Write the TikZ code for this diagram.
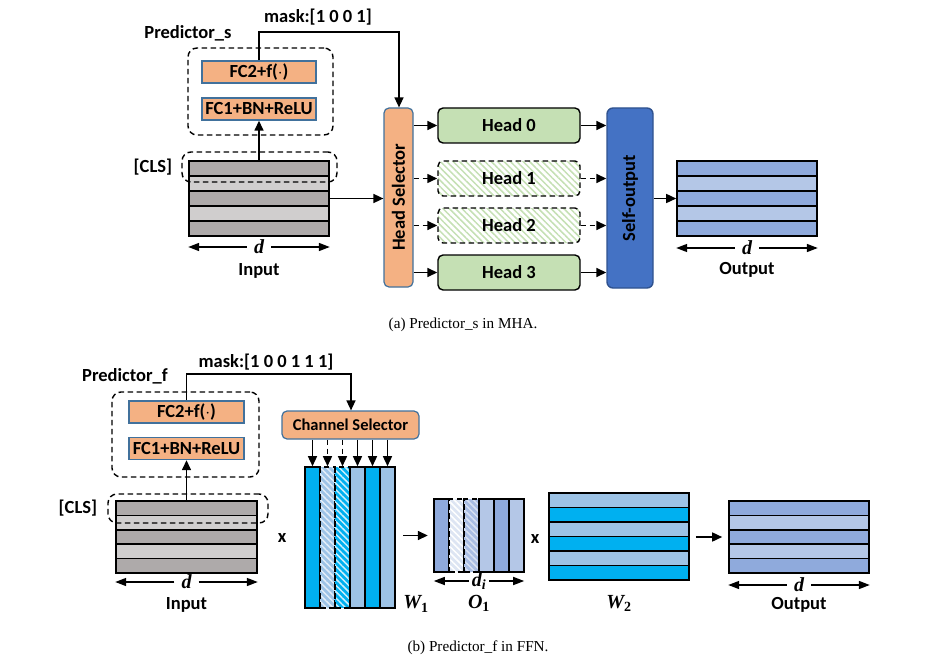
\documentclass[tikz,border=0pt]{standalone}
\usepackage{fontspec}
\usepackage{graphicx}
\setmainfont{Liberation Serif}
\newfontfamily\labfont{Carlito}
\usetikzlibrary{arrows.meta,patterns.meta,positioning}
\definecolor{orng}{HTML}{F4B183}
\definecolor{obord}{HTML}{41719C}
\definecolor{gdark}{HTML}{AEAAAA}
\definecolor{glight}{HTML}{D0CECE}
\definecolor{hgreen}{HTML}{C5E0B4}
\definecolor{hatchg}{HTML}{C5E0B4}
\definecolor{sblue}{HTML}{4472C4}
\definecolor{sbord}{HTML}{2F528F}
\definecolor{odark}{HTML}{8FAADC}
\definecolor{olight}{HTML}{B4C7E7}
\definecolor{ofadea}{HTML}{DDE5F3}
\definecolor{ofadeb}{HTML}{A9BDE3}
\definecolor{wcyan}{HTML}{00B0F0}
\definecolor{wlight}{HTML}{9DC3E6}
\begin{document}
\begin{tikzpicture}
      [
        x=1pt, y=-1pt,
        lbl/.style={font=\labfont\bfseries\fontsize{18.5}{22}\selectfont, inner sep=1pt},
        fcbox/.style={lbl, draw=obord, fill=orng, line width=1.4pt, inner sep=0pt,
          minimum width=114pt, minimum height=22pt},
        dsh/.style={dash pattern=on 5.5pt off 3.5pt},
        predbox/.style={draw, dsh, line width=1.4pt, rounded corners=9pt, inner sep=0pt},
        selbox/.style={lbl, draw=obord, fill=orng, line width=1.2pt, rounded corners=5pt, inner sep=0pt},
        head/.style={lbl, draw, line width=1.4pt, fill=hgreen, rounded corners=5pt,
          minimum width=142pt, minimum height=35pt},
        offhead/.style={lbl, draw, dsh, line width=1.4pt, rounded corners=5pt,
          minimum width=142pt, minimum height=35pt,
          pattern={Lines[angle=-45,distance=4.5pt,line width=1.5pt]}, pattern color=hatchg},
        mtx/.style={inner sep=0pt, line width=1.6pt},
        wcol/.style={draw, line width=1.6pt, inner sep=0pt, minimum width=15pt},
        hatch/.style={dsh, pattern={Lines[angle=-45,distance=4.5pt,line width=1.5pt]}},
        hatchl/.style={hatch, pattern color=white!70!wlight},
        hatchc/.style={hatch, pattern color=white!80!wcyan},
        hatcha/.style={hatch, pattern color=white},
        hatchb/.style={hatch, pattern color=white!55!ofadeb},
        arr/.style={line width=1.5pt, -{Triangle[length=10pt,width=9pt]}},
        dim/.style={line width=1.5pt, -{Triangle[length=11pt,width=8pt]}},
        mathl/.style={font=\bfseries\itshape\fontsize{20}{22}\selectfont, inner sep=1pt},
        dlbl/.style={mathl, inner xsep=7pt},
        capt/.style={font=\fontsize{15.2}{18}\selectfont}
      ]
      \useasboundingbox (0,0) rectangle (925,663);

      % (a) MHA
      \node[lbl] (masks) at (318,17) {mask:[1 0 0 1]};
      \node[lbl] (preds) at (188,33) {Predictor\_s};
      \node[predbox, minimum width=145pt, minimum height=87pt] (boxs) at (260.5,91.5) {};
      \node[fcbox] (fc2s) at (259,72) {FC2+f($\cdot$)};
      \node[fcbox] (fc1s) at (259,109) {FC1+BN+ReLU};

      \foreach \c [count=\k from 0] in {gdark,glight,gdark,glight,gdark}
        \draw[mtx, fill=\c] (189,{161+15*\k}) rectangle ++(140,15);
      \node[mtx, minimum width=140pt, minimum height=75pt] (ins) at (259,198.5) {};
      \node[predbox, minimum width=155pt, minimum height=30pt] (cls) at (259.5,167) {};
      \node[lbl, left=8pt of cls] (clsl) {[CLS]};
      \node[dlbl] (ds) at (259,247) {d};
      \node[lbl] (insl) at (259,271) {Input};

      \node[selbox, minimum width=29pt, minimum height=179pt] (hs) at (398.5,197.5)
        {\rotatebox{90}{Head Selector}};
      \foreach \i/\y/\s in {0/125.5/head,1/178.5/offhead,2/225.5/offhead,3/272.5/head}
        \node[\s] (h\i) at (509,\y) {Head \i};
      \node[lbl, draw=sbord, fill=sblue, line width=1.4pt, rounded corners=6pt, inner sep=0pt,
        minimum width=46pt, minimum height=180pt] (so) at (630,198) {\rotatebox{90}{Self-output}};

      \foreach \c [count=\k from 0] in {odark,olight,odark,olight,odark}
        \draw[mtx, fill=\c] (677,{161+15*\k}) rectangle ++(140,15);
      \node[mtx, minimum width=140pt, minimum height=75pt] (outs) at (747,198.5) {};
      \node[dlbl] (dso) at (747,248) {d};
      \node[lbl] (outsl) at (747,270) {Output};

      \coordinate (ms) at (399,32);
      \draw[arr] (fc2s.north) |- (ms) -- (ms |- hs.north);
      \draw[arr] (ins.north) -- (fc1s.south);
      \draw[arr] (ins.east) -- (hs.west |- ins.east);
      \foreach \i/\l in {0/solid,1/dsh,2/dsh,3/solid} {
        \draw[arr,\l] (hs.east |- h\i.west) -- (h\i.west);
        \draw[arr,\l] (h\i.east) -- (so.west |- h\i.east);
      }
      \draw[arr] (so.east |- outs.west) -- (outs.west);
      \draw[dim] (ds.west) -- (ds.west -| ins.west);
      \draw[dim] (ds.east) -- (ds.east -| ins.east);
      \draw[dim] (dso.west) -- (dso.west -| outs.west);
      \draw[dim] (dso.east) -- (dso.east -| outs.east);

      \node[capt] (capa) at (463,325) {(a) Predictor\_s in MHA.};

      % (b) FFN
      \node[lbl] (maskf) at (266,362) {mask:[1 0 0 1 1 1]};
      \node[lbl] (predf) at (125,376) {Predictor\_f};
      \node[predbox, minimum width=147pt, minimum height=85pt] (boxf) at (185.5,434.5) {};
      \node[fcbox, minimum width=115pt] (fc2f) at (186.5,412) {FC2+f($\cdot$)};
      \node[fcbox, minimum width=115pt] (fc1f) at (186.5,448.5) {FC1+BN+ReLU};

      \foreach \c [count=\k from 0] in {gdark,glight,gdark,glight,gdark}
        \draw[mtx, fill=\c] (116,{501+14.4*\k}) rectangle ++(141,14.4);
      \node[mtx, minimum width=141pt, minimum height=72pt] (inf) at (186.5,537) {};
      \node[predbox, minimum width=160pt, minimum height=29pt] (clsf) at (188,508.5) {};
      \node[lbl, left=9pt of clsf] (clsfl) {[CLS]};
      \node[dlbl] (df) at (186.5,582) {d};
      \node[lbl] (infl) at (186.5,605) {Input};

      \node[selbox, font=\labfont\bfseries\fontsize{16.5}{20}\selectfont,
        minimum width=137pt, minimum height=28pt] (cs) at (350.5,425) {Channel Selector};

      \node[lbl] (x1) at (282,538) {x};
      \foreach \c/\s [count=\k from 0] in {wcyan/solid,wlight/hatchl,wcyan/hatchc,
          wlight/solid,wcyan/solid,wlight/solid}
        \node[wcol, minimum height=141pt, preaction={fill=\c}, \s] (w1c\k) at ({312.5+15*\k},537.5) {};
      \node[inner sep=0pt, minimum width=90pt, minimum height=141pt] (w1) at (350,537.5) {};
      \node[mathl] (w1l) at (416,604) {W\textsubscript{\upshape 1}};

      \foreach \c/\s [count=\k from 0] in {odark/solid,ofadea/hatcha,ofadeb/hatchb,
          olight/solid,odark/solid,olight/solid}
        \node[wcol, minimum height=73pt, preaction={fill=\c}, \s] (o1c\k) at ({441.5+15*\k},535.5) {};
      \node[inner sep=0pt, minimum width=90pt, minimum height=73pt] (o1) at (479,535.5) {};
      \node[mathl, inner xsep=3pt] (dio) at (479,581) {d\textsubscript{i}};
      \node[mathl] (o1l) at (479,603) {O\textsubscript{\upshape 1}};

      \node[lbl] (x2) at (535,539) {x};
      \foreach \c [count=\k from 0] in {wlight,wcyan,wlight,wcyan,wlight,wcyan}
        \draw[mtx, fill=\c] (549,{493+14.5*\k}) rectangle ++(140,14.5);
      \node[mtx, minimum width=140pt, minimum height=87pt] (w2) at (619,536.5) {};
      \node[mathl] (w2l) at (619,603) {W\textsubscript{\upshape 2}};

      \foreach \c [count=\k from 0] in {odark,olight,odark,olight,odark}
        \draw[mtx, fill=\c] (729,{501+14.4*\k}) rectangle ++(140,14.4);
      \node[mtx, minimum width=140pt, minimum height=72pt] (outf) at (799,537) {};
      \node[dlbl] (dfo) at (799,585) {d};
      \node[lbl] (outfl) at (799,605) {Output};

      \coordinate (mf) at (351,374);
      \draw[arr] (fc2f.north) |- (mf) -- (mf |- cs.north);
      \draw[arr] (inf.north) -- (fc1f.south);
      \foreach \k/\l in {0/solid,1/dsh,2/dsh,3/solid,4/solid,5/solid}
        \draw[arr,\l] (cs.south -| w1c\k.north) -- (w1c\k.north);
      \draw[arr, shorten <=8pt, shorten >=6pt] (w1.east |- o1.west) -- (o1.west);
      \draw[arr, shorten <=6pt, shorten >=6pt] (w2.east |- outf.west) -- (outf.west);
      \draw[dim] (df.west) -- (df.west -| inf.west);
      \draw[dim] (df.east) -- (df.east -| inf.east);
      \draw[dim] (dio.west) -- (dio.west -| o1.west);
      \draw[dim] (dio.east) -- (dio.east -| o1.east);
      \draw[dim] (dfo.west) -- (dfo.west -| outf.west);
      \draw[dim] (dfo.east) -- (dfo.east -| outf.east);

      \node[capt] (capb) at (478,648) {(b) Predictor\_f in FFN.};
\end{tikzpicture}
\end{document}
